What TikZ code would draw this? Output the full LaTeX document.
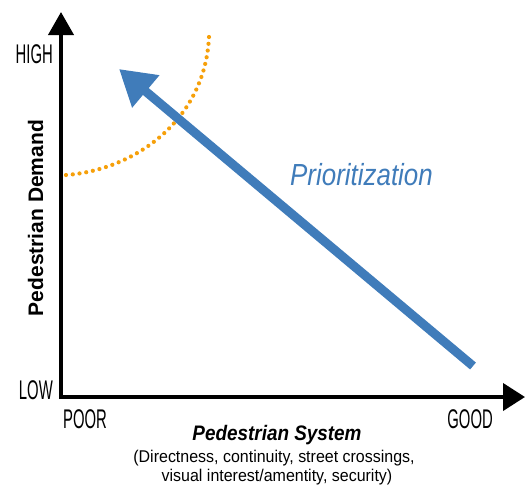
\documentclass[tikz,border=0pt]{standalone}
\usepackage{fontspec}
\setmainfont{Liberation Sans}
\newfontfamily\narrowfont[FakeStretch=0.55]{Liberation Sans}
\newfontfamily\labelfont[FakeStretch=0.9]{Liberation Sans}
\newfontfamily\priofont[FakeStretch=0.85]{Liberation Sans}
\newfontfamily\notefont[FakeStretch=0.94]{Liberation Sans}
\usetikzlibrary{arrows.meta}
\definecolor{prioblue}{RGB}{64,124,186}
\definecolor{demandorange}{RGB}{246,160,10}

\tikzset{
  axis/.style={line width=4pt},
  level/.style={font=\narrowfont\fontsize{27}{27}\selectfont, inner sep=0pt},
  prioarrow/.style={prioblue, line width=9pt, -{Triangle[length=35pt,width=40pt]}},
  demandcurve/.style={demandorange, line width=4.2pt, line cap=round, dash pattern=on 0pt off 6.8pt},
}

\begin{document}
\begin{tikzpicture}[x=1pt, y=-1pt]
\useasboundingbox (0,0) rectangle (527,485);

%axes
\draw [axis, -{Triangle[length=23pt,width=25pt]}] (61,399) -- (61,12);
\draw [axis, -{Triangle[length=22pt,width=27pt]}] (59,397) -- (525,397);

\node [level, anchor=base east] (high) at (53,63) {HIGH};
\node [level, anchor=base east] (low) at (53,399) {LOW};
\node [level, anchor=base west] (poor) at (63,428) {POOR};
\node [level, anchor=base east] (good) at (493,428) {GOOD};

\node [rotate=90, anchor=base, inner sep=0pt, font=\bfseries\fontsize{21}{21}\selectfont] (demand) at (43,218) {Pedestrian Demand};

\node [anchor=base, inner sep=0pt, font=\labelfont\bfseries\itshape\fontsize{21}{21}\selectfont] (system) at (277,440) {Pedestrian System};
\node [anchor=base, inner sep=0pt, font=\notefont\fontsize{17}{17}\selectfont] (detail1) at (274,462) {(Directness, continuity, street crossings,};
\node [anchor=base, inner sep=0pt, font=\notefont\fontsize{17}{17}\selectfont] (detail2) at (277,481) {visual interest/amentity, security)};

%demand curve
\draw [demandcurve] (66,175) .. controls (135,170) and (205,120) .. (209,37);

\draw [prioarrow] (473,366) -- (119,69);
\node [anchor=base west, inner sep=0pt, text=prioblue, font=\priofont\itshape\fontsize{30.5}{30.5}\selectfont] (prio) at (290,185) {Prioritization};

\end{tikzpicture}
\end{document}
